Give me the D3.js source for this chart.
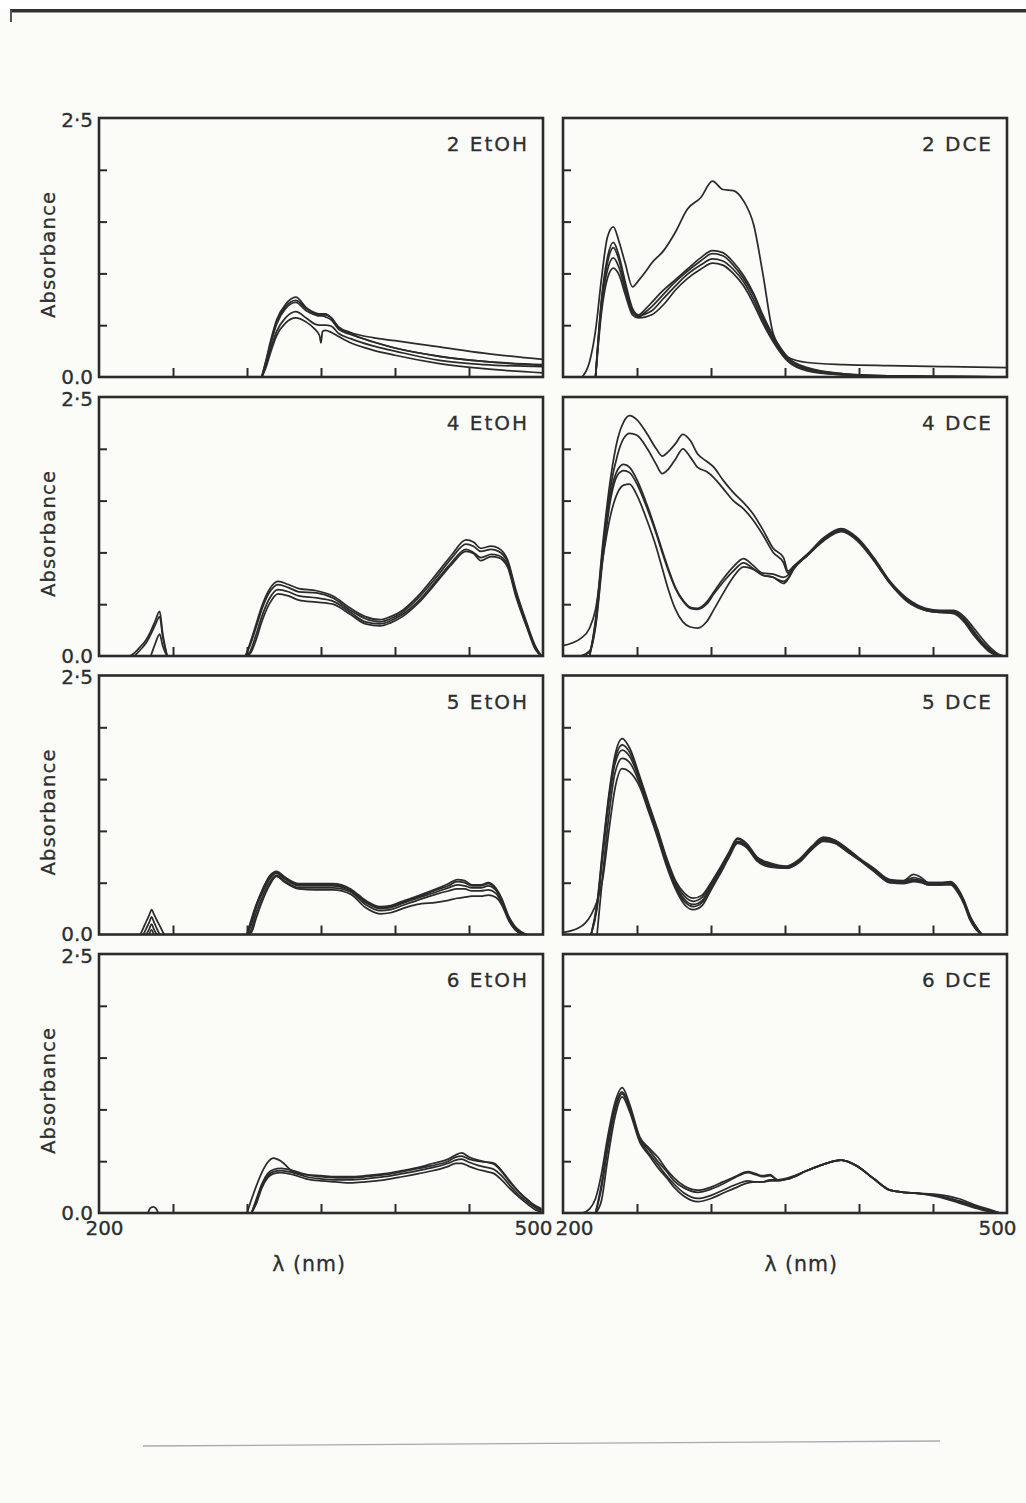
<!DOCTYPE html>
<html lang="en">

<head>
  <meta charset="UTF-8">
  <script src="https://cdn.jsdelivr.net/npm/d3@7"></script>
  <title>Absorbance spectra, EtOH and DCE</title>
  <style>
    body { margin: 0; background: #fbfbf8; }
    svg { display: block; }
    text { font-family: "DejaVu Sans", sans-serif; fill: #2e2e2e; stroke: #2e2e2e; stroke-width: 0.3px; }
  </style>
</head>

<body>
  <svg width="1026" height="1503" id="fig"></svg>
  <script>
    /* DATA: wavelength grids (nm) and absorbance series */
    const xTicks = [250, 300, 350, 400, 450];
    const yTicks = [0.5, 1.0, 1.5, 2.0];
    const xLabels = [200, 500];
    const yLabels = [0, 2.5];

    // 2 EtOH
    const wl2EtOH = [310, 313, 316, 320, 326, 333, 340, 346, 349, 350, 351, 353, 357, 362, 370, 385, 400, 430, 460, 500];
    const abs2EtOH = [
      [0, 0.17, 0.35, 0.55, 0.70, 0.77, 0.67, 0.62, 0.61, 0.61, 0.61, 0.61, 0.57, 0.48, 0.42, 0.34, 0.28, 0.20, 0.15, 0.12],
      [0, 0.16, 0.33, 0.53, 0.68, 0.74, 0.66, 0.61, 0.60, 0.60, 0.60, 0.60, 0.57, 0.48, 0.43, 0.38, 0.35, 0.29, 0.23, 0.17],
      [0, 0.15, 0.32, 0.51, 0.66, 0.72, 0.64, 0.60, 0.59, 0.59, 0.59, 0.58, 0.55, 0.46, 0.41, 0.34, 0.28, 0.20, 0.15, 0.11],
      [0, 0.12, 0.27, 0.44, 0.57, 0.63, 0.57, 0.51, 0.50, 0.50, 0.50, 0.50, 0.49, 0.42, 0.37, 0.30, 0.25, 0.16, 0.12, 0.10],
      [0, 0.10, 0.24, 0.40, 0.52, 0.57, 0.53, 0.46, 0.40, 0.33, 0.44, 0.45, 0.43, 0.39, 0.33, 0.26, 0.21, 0.13, 0.08, 0.04]
    ];

    // 2 DCE
    const wl2DCE = [213, 218, 222, 226, 230, 234, 238, 242, 247, 251, 256, 260, 268, 276, 284, 293, 301, 308, 315, 322, 329, 335, 342, 352, 365, 390, 420, 460, 500];
    const abs2DCE = [
      [0, 0.15, 0.45, 0.95, 1.35, 1.45, 1.30, 1.10, 0.87, 0.93, 1.02, 1.10, 1.22, 1.40, 1.62, 1.73, 1.89, 1.81, 1.80, 1.70, 1.46, 1.00, 0.42, 0.19, 0.14, 0.12, 0.11, 0.10, 0.09],
      [null, null, 0, 0.75, 1.15, 1.30, 1.16, 0.92, 0.66, 0.60, 0.66, 0.72, 0.84, 0.94, 1.04, 1.15, 1.22, 1.20, 1.11, 0.98, 0.80, 0.60, 0.40, 0.19, 0.09, 0.03, 0.01, 0.005, 0],
      [null, null, 0, 0.72, 1.10, 1.25, 1.12, 0.88, 0.64, 0.58, 0.63, 0.68, 0.80, 0.92, 1.02, 1.12, 1.19, 1.17, 1.08, 0.95, 0.78, 0.58, 0.38, 0.18, 0.08, 0.03, 0.01, 0.005, 0],
      [null, null, 0, 0.68, 1.03, 1.15, 1.05, 0.84, 0.62, 0.59, 0.61, 0.64, 0.76, 0.88, 0.99, 1.08, 1.14, 1.12, 1.04, 0.92, 0.74, 0.55, 0.36, 0.16, 0.07, 0.02, 0.01, 0, 0],
      [null, null, 0, 0.62, 0.95, 1.05, 0.98, 0.80, 0.60, 0.57, 0.58, 0.60, 0.70, 0.84, 0.95, 1.04, 1.10, 1.08, 1.00, 0.88, 0.70, 0.52, 0.34, 0.15, 0.06, 0.02, 0.005, 0, 0]
    ];

    // 4 EtOH (small band near 240 nm + main spectrum)
    const wl4EtOHuv = [221, 224, 228, 232, 235, 238, 241, 243, 246];
    const abs4EtOHuv = [
      [0, 0.03, 0.09, 0.16, 0.24, 0.34, 0.43, 0.22, 0],
      [null, 0, 0.06, 0.13, 0.21, 0.30, 0.38, 0.19, 0],
      [null, null, null, null, 0, 0.12, 0.21, 0.10, 0]
    ];
    const wl4EtOH = [299, 302, 306, 310, 315, 321, 328, 335, 347, 358, 370, 380, 390, 397, 405, 415, 428, 438, 448, 453, 458, 465, 470, 476, 482, 489, 495, 499];
    const abs4EtOH = [
      [0, 0.12, 0.30, 0.48, 0.64, 0.72, 0.69, 0.65, 0.63, 0.58, 0.46, 0.38, 0.35, 0.38, 0.44, 0.57, 0.79, 0.97, 1.12, 1.10, 1.04, 1.06, 1.04, 0.93, 0.62, 0.32, 0.09, 0],
      [0, 0.10, 0.27, 0.45, 0.61, 0.69, 0.66, 0.62, 0.61, 0.56, 0.44, 0.36, 0.33, 0.36, 0.42, 0.55, 0.76, 0.94, 1.08, 1.06, 1.01, 1.03, 1.01, 0.91, 0.60, 0.30, 0.08, 0],
      [0, 0.04, 0.20, 0.38, 0.55, 0.64, 0.62, 0.58, 0.56, 0.53, 0.42, 0.33, 0.31, 0.34, 0.40, 0.52, 0.73, 0.90, 1.03, 1.00, 0.95, 0.98, 0.97, 0.88, 0.58, 0.29, 0.07, 0],
      [0, 0.02, 0.15, 0.33, 0.50, 0.60, 0.58, 0.54, 0.52, 0.50, 0.40, 0.31, 0.29, 0.32, 0.38, 0.50, 0.71, 0.88, 1.01, 0.99, 0.92, 0.96, 0.95, 0.86, 0.56, 0.28, 0.06, 0]
    ];

    // 4 DCE
    const wl4DCE = [200, 212, 218, 222, 227, 232, 237, 241, 245, 250, 257, 263, 267, 271, 276, 281, 286, 291, 297, 302, 308, 315, 322, 328, 335, 342, 349, 352, 356, 365, 376, 388, 399, 410, 421, 433, 445, 455, 464, 471, 477, 483, 488, 494, 498];
    const abs4DCE = [
      [null, null, 0, 0.35, 1.10, 1.70, 2.10, 2.26, 2.32, 2.28, 2.14, 2.00, 1.93, 1.97, 2.05, 2.14, 2.08, 1.95, 1.88, 1.82, 1.70, 1.58, 1.48, 1.38, 1.22, 1.04, 0.95, 0.82, 0.87, 0.98, 1.12, 1.21, 1.12, 0.93, 0.71, 0.53, 0.45, 0.43, 0.43, 0.36, 0.25, 0.14, 0.07, 0.01, 0],
      [null, null, 0, 0.33, 1.05, 1.62, 1.95, 2.10, 2.15, 2.13, 2.00, 1.85, 1.76, 1.80, 1.90, 2.00, 1.92, 1.82, 1.78, 1.72, 1.62, 1.50, 1.42, 1.32, 1.17, 1.00, 0.90, 0.80, 0.86, 0.97, 1.11, 1.20, 1.11, 0.92, 0.70, 0.52, 0.44, 0.42, 0.42, 0.35, 0.24, 0.13, 0.06, 0.01, 0],
      [null, 0, 0.05, 0.30, 1.00, 1.55, 1.80, 1.85, 1.82, 1.70, 1.45, 1.20, 1.02, 0.85, 0.66, 0.54, 0.47, 0.46, 0.52, 0.62, 0.74, 0.86, 0.94, 0.88, 0.80, 0.79, 0.76, 0.78, 0.86, 0.98, 1.14, 1.23, 1.14, 0.95, 0.72, 0.55, 0.46, 0.44, 0.44, 0.38, 0.28, 0.17, 0.09, 0.02, 0],
      [null, 0, 0.04, 0.28, 0.95, 1.50, 1.75, 1.79, 1.77, 1.66, 1.42, 1.18, 1.00, 0.83, 0.65, 0.53, 0.46, 0.45, 0.50, 0.60, 0.71, 0.82, 0.90, 0.85, 0.78, 0.76, 0.72, 0.75, 0.85, 0.97, 1.13, 1.22, 1.13, 0.94, 0.71, 0.54, 0.45, 0.43, 0.42, 0.34, 0.22, 0.12, 0.05, 0, null],
      [0.10, 0.17, 0.27, 0.45, 0.95, 1.35, 1.58, 1.65, 1.66, 1.55, 1.30, 1.05, 0.85, 0.65, 0.45, 0.33, 0.28, 0.27, 0.33, 0.45, 0.60, 0.76, 0.86, 0.84, 0.78, 0.76, 0.70, 0.74, 0.84, 0.97, 1.12, 1.21, 1.12, 0.93, 0.70, 0.53, 0.44, 0.42, 0.41, 0.33, 0.21, 0.11, 0.04, 0, null]
    ];

    // 5 EtOH
    const wl5EtOHuv = [228, 230, 232, 234, 235.5, 237, 239, 241, 244];
    const abs5EtOHuv = [
      [0, 0.064, 0.128, 0.19, 0.24, 0.20, 0.14, 0.085, 0],
      [null, 0, 0.06, 0.12, 0.17, 0.125, 0.06, 0, null],
      [null, null, 0, 0.055, 0.10, 0.055, 0, null, null],
      [null, null, null, 0, 0.045, 0, null, null, null]
    ];
    const wl5EtOH = [300, 303, 306, 310, 315, 320, 325, 335, 347, 358, 370, 380, 390, 397, 405, 415, 428, 436, 442, 447, 452, 458, 463, 468, 472, 477, 481, 485, 489];
    const abs5EtOH = [
      [0, 0.15, 0.28, 0.42, 0.56, 0.61, 0.56, 0.49, 0.49, 0.49, 0.44, 0.33, 0.27, 0.28, 0.32, 0.37, 0.44, 0.49, 0.53, 0.52, 0.48, 0.48, 0.50, 0.45, 0.35, 0.17, 0.08, 0.03, 0],
      [0, 0.13, 0.27, 0.41, 0.55, 0.60, 0.55, 0.48, 0.48, 0.48, 0.43, 0.32, 0.26, 0.27, 0.31, 0.36, 0.43, 0.47, 0.51, 0.50, 0.47, 0.47, 0.49, 0.44, 0.34, 0.16, 0.07, 0.02, 0],
      [0, 0.10, 0.25, 0.39, 0.53, 0.59, 0.54, 0.47, 0.47, 0.47, 0.42, 0.31, 0.25, 0.26, 0.30, 0.35, 0.41, 0.45, 0.48, 0.47, 0.45, 0.45, 0.47, 0.43, 0.33, 0.15, 0.06, 0.02, 0],
      [0, 0.05, 0.20, 0.35, 0.50, 0.57, 0.52, 0.45, 0.45, 0.45, 0.41, 0.29, 0.23, 0.24, 0.28, 0.33, 0.39, 0.42, 0.44, 0.44, 0.42, 0.42, 0.43, 0.40, 0.31, 0.14, 0.05, 0.01, 0],
      [0, 0.02, 0.15, 0.31, 0.47, 0.56, 0.51, 0.44, 0.43, 0.43, 0.39, 0.26, 0.20, 0.21, 0.25, 0.29, 0.31, 0.33, 0.35, 0.36, 0.37, 0.37, 0.38, 0.36, 0.29, 0.13, 0.05, 0.01, 0]
    ];

    // 5 DCE
    const wl5DCE = [200, 210, 215, 219, 223, 227, 231, 235, 240, 245, 252, 258, 264, 270, 276, 282, 288, 294, 300, 306, 312, 318, 324, 331, 340, 351, 360, 368, 376, 384, 392, 400, 410, 421, 430, 437, 442, 447, 455, 462, 467, 471, 475, 479, 483];
    const abs5DCE = [
      [null, null, null, 0, 0.30, 0.85, 1.35, 1.72, 1.89, 1.80, 1.52, 1.26, 1.01, 0.74, 0.52, 0.40, 0.35, 0.38, 0.50, 0.64, 0.79, 0.93, 0.88, 0.75, 0.69, 0.66, 0.73, 0.85, 0.94, 0.91, 0.83, 0.74, 0.64, 0.53, 0.52, 0.58, 0.55, 0.50, 0.50, 0.51, 0.44, 0.33, 0.18, 0.08, 0],
      [null, null, null, 0, 0.28, 0.82, 1.32, 1.68, 1.83, 1.76, 1.50, 1.24, 0.99, 0.72, 0.50, 0.37, 0.32, 0.36, 0.49, 0.63, 0.78, 0.92, 0.87, 0.74, 0.68, 0.65, 0.72, 0.84, 0.93, 0.90, 0.82, 0.73, 0.63, 0.52, 0.51, 0.55, 0.53, 0.50, 0.50, 0.50, 0.43, 0.32, 0.17, 0.07, 0],
      [null, null, null, 0, 0.25, 0.78, 1.28, 1.64, 1.78, 1.72, 1.48, 1.22, 0.97, 0.70, 0.48, 0.34, 0.29, 0.33, 0.47, 0.62, 0.77, 0.90, 0.86, 0.73, 0.67, 0.65, 0.72, 0.83, 0.92, 0.89, 0.81, 0.73, 0.62, 0.51, 0.51, 0.53, 0.52, 0.49, 0.49, 0.50, 0.42, 0.31, 0.16, 0.06, 0],
      [null, null, null, null, 0, 0.60, 1.15, 1.55, 1.70, 1.66, 1.45, 1.20, 0.95, 0.68, 0.46, 0.32, 0.27, 0.31, 0.45, 0.60, 0.76, 0.89, 0.85, 0.72, 0.66, 0.64, 0.71, 0.82, 0.91, 0.88, 0.80, 0.72, 0.62, 0.50, 0.50, 0.52, 0.51, 0.48, 0.48, 0.49, 0.41, 0.30, 0.15, 0.05, 0],
      [0.02, 0.06, 0.11, 0.19, 0.32, 0.55, 1.00, 1.40, 1.60, 1.57, 1.42, 1.18, 0.93, 0.66, 0.44, 0.29, 0.24, 0.28, 0.43, 0.58, 0.74, 0.88, 0.84, 0.71, 0.65, 0.64, 0.70, 0.82, 0.90, 0.88, 0.80, 0.72, 0.61, 0.50, 0.49, 0.51, 0.50, 0.48, 0.48, 0.48, 0.40, 0.29, 0.14, 0.05, 0]
    ];

    // 6 EtOH
    const wl6EtOHuv = [233, 234.5, 236.5, 238.5, 240];
    const abs6EtOHuv = [
      [0, 0.045, 0.06, 0.045, 0]
    ];
    const wl6EtOH = [300, 303, 306, 310, 314, 318, 323, 331, 340, 350, 360, 370, 380, 393, 405, 416, 426, 436, 441, 445, 450, 456, 462, 467, 472, 478, 484, 491, 495, 499];
    const abs6EtOH = [
      [0, 0.13, 0.25, 0.39, 0.49, 0.53, 0.50, 0.40, 0.37, 0.36, 0.35, 0.35, 0.36, 0.38, 0.41, 0.44, 0.48, 0.52, 0.56, 0.58, 0.54, 0.51, 0.49, 0.47, 0.40, 0.29, 0.20, 0.11, 0.07, 0.04],
      [null, 0, 0.12, 0.28, 0.38, 0.42, 0.43, 0.41, 0.37, 0.35, 0.34, 0.34, 0.35, 0.37, 0.40, 0.43, 0.46, 0.50, 0.54, 0.55, 0.52, 0.50, 0.49, 0.48, 0.41, 0.30, 0.20, 0.11, 0.06, 0.03],
      [null, 0, 0.10, 0.26, 0.36, 0.40, 0.41, 0.39, 0.35, 0.33, 0.32, 0.32, 0.33, 0.35, 0.38, 0.41, 0.44, 0.48, 0.51, 0.52, 0.49, 0.46, 0.44, 0.42, 0.36, 0.26, 0.17, 0.09, 0.05, 0.02],
      [null, 0, 0.08, 0.24, 0.34, 0.38, 0.39, 0.37, 0.33, 0.31, 0.30, 0.29, 0.30, 0.32, 0.35, 0.38, 0.41, 0.45, 0.48, 0.48, 0.45, 0.42, 0.40, 0.38, 0.32, 0.23, 0.15, 0.07, 0.03, 0.01]
    ];

    // 6 DCE
    const wl6DCE = [213, 218, 222, 226, 230, 235, 240, 245, 252, 258, 264, 270, 275, 282, 291, 300, 308, 316, 325, 330, 335, 340, 345, 352, 365, 376, 388, 399, 410, 421, 430, 440, 452, 467, 478, 489, 495];
    const abs6DCE = [
      [0, 0.04, 0.14, 0.38, 0.72, 1.06, 1.21, 1.05, 0.73, 0.63, 0.54, 0.42, 0.34, 0.26, 0.22, 0.25, 0.30, 0.35, 0.40, 0.38, 0.36, 0.37, 0.32, 0.34, 0.41, 0.47, 0.51, 0.45, 0.33, 0.22, 0.20, 0.19, 0.18, 0.14, 0.08, 0.03, 0],
      [null, null, 0, 0.28, 0.65, 1.02, 1.17, 1.02, 0.72, 0.61, 0.50, 0.40, 0.31, 0.24, 0.20, 0.23, 0.28, 0.34, 0.39, 0.37, 0.35, 0.36, 0.32, 0.33, 0.41, 0.47, 0.51, 0.45, 0.33, 0.22, 0.20, 0.19, 0.17, 0.12, 0.07, 0.02, 0],
      [null, null, 0, 0.24, 0.60, 0.98, 1.15, 1.00, 0.70, 0.58, 0.47, 0.36, 0.28, 0.19, 0.14, 0.17, 0.22, 0.27, 0.31, 0.30, 0.30, 0.31, 0.31, 0.33, 0.41, 0.47, 0.51, 0.45, 0.33, 0.22, 0.20, 0.19, 0.17, 0.11, 0.06, 0.02, 0],
      [null, null, 0, 0.12, 0.50, 0.92, 1.12, 0.98, 0.68, 0.56, 0.44, 0.34, 0.25, 0.16, 0.11, 0.14, 0.19, 0.24, 0.29, 0.30, 0.30, 0.32, 0.32, 0.33, 0.41, 0.47, 0.51, 0.45, 0.33, 0.22, 0.20, 0.19, 0.16, 0.10, 0.05, 0.01, 0]
    ];

    // panel table built from the arrays above
    const panels = [
      { label: "2 EtOH", row: 0, col: 0, parts: [[wl2EtOH, abs2EtOH]] },
      { label: "2 DCE", row: 0, col: 1, parts: [[wl2DCE, abs2DCE]] },
      { label: "4 EtOH", row: 1, col: 0, parts: [[wl4EtOHuv, abs4EtOHuv], [wl4EtOH, abs4EtOH]] },
      { label: "4 DCE", row: 1, col: 1, parts: [[wl4DCE, abs4DCE]] },
      { label: "5 EtOH", row: 2, col: 0, parts: [[wl5EtOHuv, abs5EtOHuv], [wl5EtOH, abs5EtOH]] },
      { label: "5 DCE", row: 2, col: 1, parts: [[wl5DCE, abs5DCE]] },
      { label: "6 EtOH", row: 3, col: 0, parts: [[wl6EtOHuv, abs6EtOHuv], [wl6EtOH, abs6EtOH]] },
      { label: "6 DCE", row: 3, col: 1, parts: [[wl6DCE, abs6DCE]] }
    ];

    /* LAYOUT */
    const ink = "#2b2b2b";
    const colX = [99, 563];
    const rowY = [118, 397, 675.5, 954];
    const pw = 444, ph = 259;
    const lambdaAt = [342, 361]; // where the x title sits under each column

    let svg = d3.select("#fig");

    // paper of the scan
    svg.append("rect").attr("width", 1026).attr("height", 1503).attr("fill", "#fbfbf8");
    svg.append("rect").attr("width", 1026).attr("height", 9).attr("fill", "#ffffff");
    svg.append("rect").attr("x", 10).attr("y", 9).attr("width", 1016).attr("height", 3.5).attr("fill", "#2f3330");
    svg.append("rect").attr("x", 10).attr("y", 10).attr("width", 2).attr("height", 12).attr("fill", "#555");
    svg.append("line")
      .attr("x1", 143).attr("y1", 1446).attr("x2", 940).attr("y2", 1441)
      .attr("stroke", "#a9a9a9").attr("stroke-width", 1.3);

    panels.forEach(p => {
      let x = d3.scaleLinear().domain([200, 500]).range([0, pw]);
      let y = d3.scaleLinear().domain([0, 2.5]).range([ph, 0]);
      let g = svg.append("g").attr("transform", `translate(${colX[p.col]},${rowY[p.row]})`);

      /* SPECTRA */
      let line = d3.line()
        .defined(d => d[1] != null)
        .x(d => x(d[0]))
        .y(d => y(d[1]))
        .curve(d3.curveMonotoneX);

      p.parts.forEach(([wl, series]) => {
        series.forEach(s => {
          g.append("path")
            .datum(wl.map((w, i) => [w, s[i]]))
            .attr("d", line)
            .attr("fill", "none")
            .attr("stroke", ink)
            .attr("stroke-width", 1.75)
            .attr("stroke-linejoin", "round");
        });
      });

      /* AXES: inner ticks */
      let xAx = g.append("g").attr("transform", `translate(0,${ph})`)
        .call(d3.axisBottom(x).tickValues(xTicks).tickSize(-9).tickFormat(""));
      let yAx = g.append("g")
        .call(d3.axisLeft(y).tickValues(yTicks).tickSize(-8).tickFormat(""));
      [xAx, yAx].forEach(a => {
        a.select(".domain").remove();
        a.selectAll("line").attr("stroke", ink).attr("stroke-width", 2);
      });

      // frame
      g.append("rect").attr("width", pw).attr("height", ph)
        .attr("fill", "none").attr("stroke", ink).attr("stroke-width", 2.6);

      // y labels only on the left column
      if (p.col === 0) {
        let yl = g.append("g")
          .call(d3.axisLeft(y).tickValues(yLabels).tickSize(0).tickPadding(6)
            .tickFormat(d => d === 0 ? "0.0" : "2·5"));
        yl.select(".domain").remove();
        yl.selectAll("text").attr("font-size", 20).attr("font-family", "DejaVu Sans, sans-serif").attr("fill", "#2e2e2e");
        yl.selectAll(".tick").filter(d => d === 2.5).select("text").attr("dy", "0.4em");

        g.append("text")
          .text("Absorbance")
          .attr("transform", `translate(${55 - colX[0]},${ph / 2 + 7}) rotate(-90)`)
          .attr("text-anchor", "middle")
          .attr("font-size", 19.5)
          .attr("letter-spacing", 1.2);
      }

      // x labels only on the bottom row
      if (p.row === 3) {
        let xl = g.append("g").attr("transform", `translate(0,${ph})`)
          .call(d3.axisBottom(x).tickValues(xLabels).tickSize(0).tickPadding(8).tickFormat(d3.format("d")));
        xl.select(".domain").remove();
        xl.selectAll("text").attr("font-size", 20).attr("font-family", "DejaVu Sans, sans-serif").attr("fill", "#2e2e2e")
          .attr("dx", d => d === 200 ? (p.col === 0 ? 5 : 11) : -10);

        g.append("text")
          .text("λ (nm)")
          .attr("x", x(lambdaAt[p.col]))
          .attr("y", ph + 58)
          .attr("text-anchor", "middle")
          .attr("font-size", 20.5)
          .attr("letter-spacing", 1);
      }

      // panel name
      g.append("text")
        .text(p.label)
        .attr("x", pw - 14)
        .attr("y", 33)
        .attr("text-anchor", "end")
        .attr("font-size", 20)
        .attr("letter-spacing", 2);
    });
  </script>
</body>

</html>
